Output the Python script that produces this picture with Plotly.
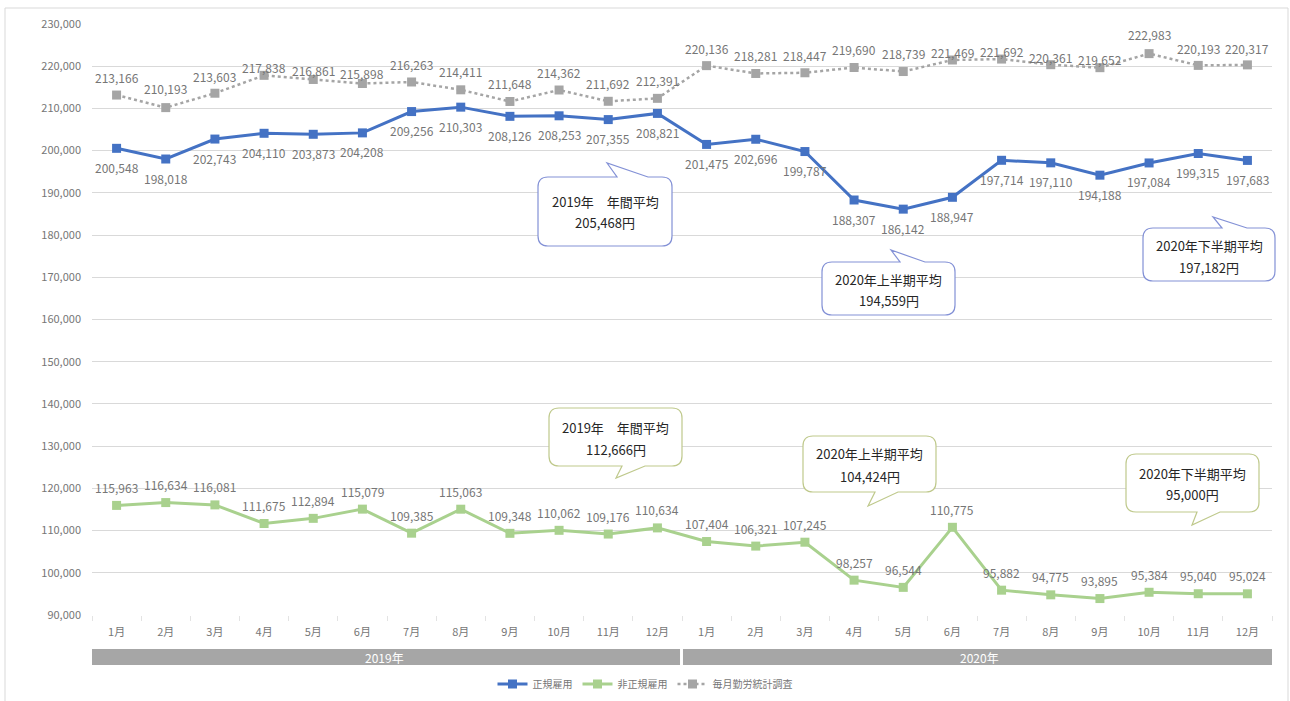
import plotly.graph_objects as go

# --- data -------------------------------------------------------------
months = ["1月", "2月", "3月", "4月", "5月", "6月",
          "7月", "8月", "9月", "10月", "11月", "12月"]
years = ["2019年", "2020年"]

regular = [200548, 198018, 202743, 204110, 203873, 204208,
           209256, 210303, 208126, 208253, 207355, 208821,
           201475, 202696, 199787, 188307, 186142, 188947,
           197714, 197110, 194188, 197084, 199315, 197683]

non_regular = [115963, 116634, 116081, 111675, 112894, 115079,
               109385, 115063, 109348, 110062, 109176, 110634,
               107404, 106321, 107245, 98257, 96544, 110775,
               95882, 94775, 93895, 95384, 95040, 95024]

monthly_survey = [213166, 210193, 213603, 217838, 216861, 215898,
                  216263, 214411, 211648, 214362, 211692, 212391,
                  220136, 218281, 218447, 219690, 218739, 221469,
                  221692, 220361, 219652, 222983, 220193, 220317]

series_names = ["正規雇用", "非正規雇用", "毎月勤労統計調査"]

# callout texts: (title, value)
callouts_regular = [("2019年　年間平均", 205468),
                    ("2020年上半期平均", 194559),
                    ("2020年下半期平均", 197182)]
callouts_non_regular = [("2019年　年間平均", 112666),
                        ("2020年上半期平均", 104424),
                        ("2020年下半期平均", 95000)]

# --- style / layout ---------------------------------------------------
W, H = 1290, 701
ML, MR, MT, MB = 92, 18, 24, 86
PW, PH = W - ML - MR, H - MT - MB

BLUE = "#4472C4"
GREEN = "#A9D18E"
GRAY = "#A5A5A5"
LABEL = "#767676"
GRID = "#D9D9D9"
FONT = "Noto Sans CJK JP"

# vertical nudge (px) of the survey labels above their markers
survey_shift = [18, 19, 17, 8, 9, 10, 17, 18, 18, 18, 18, 18,
                17, 18, 17, 18, 18, 8, 8, 7, 8, 19, 17, 16]


def px(x):
    return (x - ML) / PW


def py(y):
    return (MT + PH - y) / PH


x_idx = list(range(len(years) * len(months)))
tick_text = months * len(years)

fig = go.Figure()
fig.add_trace(go.Scatter(
    x=x_idx, y=regular, name=series_names[0], mode="lines+markers",
    line=dict(color=BLUE, width=3),
    marker=dict(symbol="square", size=9, color=BLUE)))
fig.add_trace(go.Scatter(
    x=x_idx, y=non_regular, name=series_names[1], mode="lines+markers",
    line=dict(color=GREEN, width=3),
    marker=dict(symbol="square", size=9, color=GREEN)))
fig.add_trace(go.Scatter(
    x=x_idx, y=monthly_survey, name=series_names[2], mode="lines+markers",
    line=dict(color=GRAY, width=2.5, dash="dot"),
    marker=dict(symbol="square", size=9, color=GRAY)))

annotations = []
label_font = dict(family=FONT, size=12, color=LABEL)
for i, v in enumerate(regular):
    annotations.append(dict(x=x_idx[i], y=v, text=f"{v:,}", showarrow=False,
                            yshift=-19, font=label_font))
for i, v in enumerate(non_regular):
    annotations.append(dict(x=x_idx[i], y=v, text=f"{v:,}", showarrow=False,
                            yshift=18, font=label_font))
for i, v in enumerate(monthly_survey):
    annotations.append(dict(x=x_idx[i], y=v, text=f"{v:,}", showarrow=False,
                            yshift=survey_shift[i], font=label_font))

shapes = []

# outer frame
shapes.append(dict(type="rect", xref="paper", yref="paper",
                   x0=px(5), x1=px(1288), y0=py(8), y1=py(712),
                   line=dict(color=GRID, width=1), layer="below"))

# year bands under the month axis
band_edges = [(-0.56, 11.46), (11.52, 23.58)]
for (a, b), yr in zip(band_edges, years):
    shapes.append(dict(type="rect", xref="x", yref="paper",
                       x0=a, x1=b, y0=py(649), y1=py(665),
                       fillcolor="#A6A6A6", line=dict(width=0)))
    annotations.append(dict(x=(a + b) / 2, y=py(657), xref="x", yref="paper",
                            xanchor="center", yanchor="middle",
                            text=yr, showarrow=False,
                            font=dict(family=FONT, size=12, color="white")))


def bubble(x0, x1, y0, y1, tail, r=10):
    """Rounded box with a pointer; tail = (side, base_a, base_b, tip_x, tip_y)."""
    side, ba, bb, tx, ty = tail
    pts = []

    def M(x, y):
        pts.append(f"M{px(x):.5f},{py(y):.5f}")

    def L(x, y):
        pts.append(f"L{px(x):.5f},{py(y):.5f}")

    def Q(cx, cy, x, y):
        pts.append(f"Q{px(cx):.5f},{py(cy):.5f} {px(x):.5f},{py(y):.5f}")

    M(x0 + r, y0)
    if side == "top":
        L(ba, y0)
        L(tx, ty)
        L(bb, y0)
    L(x1 - r, y0)
    Q(x1, y0, x1, y0 + r)
    L(x1, y1 - r)
    Q(x1, y1, x1 - r, y1)
    if side == "bottom":
        L(bb, y1)
        L(tx, ty)
        L(ba, y1)
    L(x0 + r, y1)
    Q(x0, y1, x0, y1 - r)
    L(x0, y0 + r)
    Q(x0, y0, x0 + r, y0)
    pts.append("Z")
    return " ".join(pts)


# box geometry in pixels: x0, x1, y0, y1, tail, line1 y, line2 y
boxes_regular = [
    (538, 672, 177, 246, ("top", 617, 648, 607, 163), 201, 222),
    (822, 955, 262, 315, ("top", 900, 925, 891, 250), 279, 300),
    (1143, 1275, 228, 281, ("top", 1222, 1247, 1213, 217), 245, 267),
]
boxes_non_regular = [
    (549, 682, 408, 466, ("bottom", 622, 645, 616, 478), 427, 449),
    (803, 936, 436, 492, ("bottom", 875, 898, 868, 506), 453, 476),
    (1126, 1259, 454, 512, ("bottom", 1197, 1220, 1192, 525), 473, 494),
]

callout_font = dict(family=FONT, size=13, color="#262626")
for boxes, texts, edge in ((boxes_regular, callouts_regular, "#8391D6"),
                           (boxes_non_regular, callouts_non_regular, "#BFC98C")):
    for (x0, x1, y0, y1, tail, l1, l2), (title, val) in zip(boxes, texts):
        shapes.append(dict(type="path", xref="paper", yref="paper",
                           path=bubble(x0, x1, y0, y1, tail),
                           fillcolor="white", line=dict(color=edge, width=1.2)))
        cx = px((x0 + x1) / 2)
        annotations.append(dict(x=cx, y=py(l1), xref="paper", yref="paper",
                                xanchor="center", yanchor="middle",
                                text=title, showarrow=False, font=callout_font))
        annotations.append(dict(x=cx, y=py(l2), xref="paper", yref="paper",
                                xanchor="center", yanchor="middle",
                                text=f"{val:,}円", showarrow=False,
                                font=callout_font))

fig.update_layout(
    width=W, height=H,
    margin=dict(l=ML, r=MR, t=MT, b=MB, autoexpand=False),
    paper_bgcolor="white", plot_bgcolor="white",
    font=dict(family=FONT, color=LABEL),
    showlegend=True,
    legend=dict(orientation="h", x=px(645), xanchor="center",
                y=py(684), yanchor="middle",
                font=dict(family=FONT, size=10, color=LABEL),
                itemwidth=30, tracegroupgap=0),
    xaxis=dict(range=[-0.5, len(x_idx) - 0.5], tickmode="array",
               tickvals=x_idx, ticktext=tick_text, ticks="",
               showgrid=False, zeroline=False, showline=False,
               automargin=False,
               tickfont=dict(family=FONT, size=11, color=LABEL),
               ticklabelstandoff=9,
               minor=dict(tick0=-0.5, dtick=1, ticks="outside", ticklen=5,
                          tickcolor="#E3E3E3", showgrid=False)),
    yaxis=dict(range=[90000, 230000], dtick=10000, tickformat=",d",
               showgrid=True, gridcolor=GRID, gridwidth=1, zeroline=False,
               showline=False, ticks="", automargin=False,
               tickfont=dict(family=FONT, size=11, color=LABEL),
               ticklabelstandoff=10),
    shapes=shapes,
    annotations=annotations,
)

fig.write_html("out.html")
